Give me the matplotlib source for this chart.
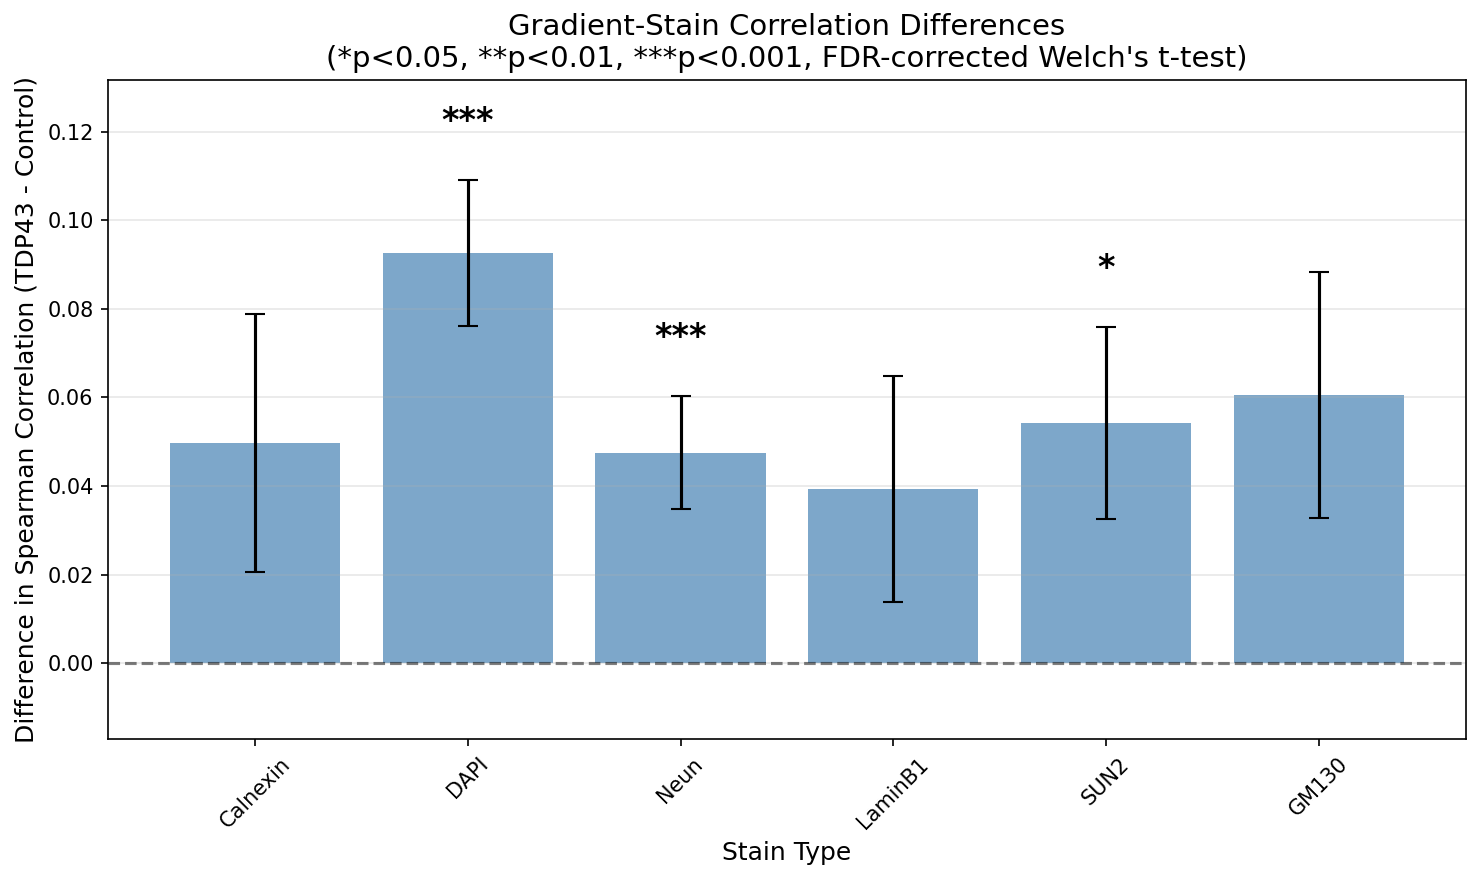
import matplotlib
matplotlib.use("Agg")
import numpy as np
import matplotlib.pyplot as plt

# data
stains = ["Calnexin", "DAPI", "Neun", "LaminB1", "SUN2", "GM130"]
diffs = [0.0497, 0.0926, 0.0475, 0.0393, 0.0542, 0.0606]
errs = [0.0292, 0.0164, 0.0128, 0.0256, 0.0216, 0.0278]
stars = ["", "***", "***", "", "*", ""]

fig, ax = plt.subplots(figsize=(9.88, 5.86), dpi=150)
fig.subplots_adjust(left=0.073, right=0.989, top=0.909, bottom=0.159)

x = np.arange(len(stains))
ax.bar(x, diffs, width=0.8, color="steelblue", alpha=0.7,
       yerr=errs, capsize=5, error_kw={"ecolor": "black", "elinewidth": 1.5})

ax.axhline(0, color="black", linestyle="--", alpha=0.5, linewidth=1.5)

for i, s in enumerate(stars):
    if s:
        ax.text(x[i], diffs[i] + errs[i] + 0.0095, s, ha="center", va="bottom",
                fontsize=16, fontweight="bold")

ax.set_xticks(x)
ax.set_xticklabels(stains, rotation=45)
ax.set_xlabel("Stain Type", fontsize=12)
ax.set_ylabel("Difference in Spearman Correlation (TDP43 - Control)", fontsize=12)
ax.set_title("Gradient-Stain Correlation Differences\n"
             "(*p<0.05, **p<0.01, ***p<0.001, FDR-corrected Welch's t-test)", fontsize=14)
ax.set_ylim(-0.0172, 0.1317)
ax.grid(True, axis="y", alpha=0.3)

fig.savefig("out.png", dpi=150)
